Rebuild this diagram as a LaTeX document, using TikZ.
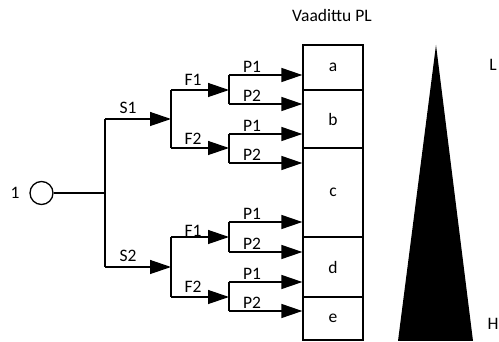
\documentclass[tikz,border=0pt]{standalone}
\usepackage{fontspec}
\setmainfont{Carlito}
\usetikzlibrary{arrows.meta}
\begin{document}
\begin{tikzpicture}[x=1pt,y=-1pt,
  ln/.style={line width=1.3pt},
  arr/.style={ln, -{Triangle[length=21pt,width=14pt]}},
  lbl/.style={font=\fontsize{17.5}{17.5}\selectfont, inner sep=0pt},
  box/.style={draw, line width=1.3pt, minimum width=60pt, inner sep=0pt, font=\fontsize{17.5}{17.5}\selectfont}
]
\useasboundingbox (0,0) rectangle (499,342);
% boxes
\node[box, minimum height=45pt] (a) at (333,67.5) {a};
\node[box, minimum height=58pt] (b) at (333,119) {b};
\node[box, minimum height=89pt] (c) at (333,192.5) {c};
\node[box, minimum height=60pt] (d) at (333,267) {d};
\node[box, minimum height=43pt] (e) at (333,318.5) {e};
\node[lbl] (title) at (332,15) {Vaadittu PL};
% start
\node[lbl] (one) at (15,193) {1};
\node[draw, ln, circle, minimum size=23pt, inner sep=0pt] (start) at (41.5,193) {};
\coordinate (s0) at (105,193);
\coordinate (s1) at (105,119);
\coordinate (s2) at (105,267);
\draw[ln] (start.east) -- (s0);
\draw[ln] (s1) -- (s2);
% S forks
\coordinate (fu) at (171,119);
\coordinate (fl) at (171,267);
\draw[arr] (s1) -- (fu);
\draw[arr] (s2) -- (fl);
\node[lbl] (lS1) at (128,108) {S1};
\node[lbl] (lS2) at (128,256) {S2};
\coordinate (fu1) at (171,90);
\coordinate (fu2) at (171,148);
\coordinate (fl1) at (171,237);
\coordinate (fl2) at (171,297);
\draw[ln] (fu1) -- (fu2);
\draw[ln] (fl1) -- (fl2);
% P forks
\coordinate (pu1) at (229,90);
\coordinate (pu2) at (229,148);
\coordinate (pl1) at (229,237);
\coordinate (pl2) at (229,297);
\draw[arr] (fu1) -- (pu1);
\draw[arr] (fu2) -- (pu2);
\draw[arr] (fl1) -- (pl1);
\draw[arr] (fl2) -- (pl2);
\node[lbl] (lF1u) at (193,80) {F1};
\node[lbl] (lF2u) at (193,139) {F2};
\node[lbl] (lF1l) at (193,231) {F1};
\node[lbl] (lF2l) at (193,287) {F2};
% P branches
\coordinate (q1) at (229,75);
\coordinate (q2) at (229,104);
\coordinate (q3) at (229,134);
\coordinate (q4) at (229,163);
\coordinate (q5) at (229,222);
\coordinate (q6) at (229,252);
\coordinate (q7) at (229,282);
\coordinate (q8) at (229,311);
\draw[ln] (q1) -- (q2);
\draw[ln] (q3) -- (q4);
\draw[ln] (q5) -- (q6);
\draw[ln] (q7) -- (q8);
\draw[arr] (q1) -- (q1 -| a.west);
\draw[arr] (q2) -- (q2 -| b.west);
\draw[arr] (q3) -- (q3 -| b.west);
\draw[arr] (q4) -- (q4 -| c.west);
\draw[arr] (q5) -- (q5 -| c.west);
\draw[arr] (q6) -- (q6 -| d.west);
\draw[arr] (q7) -- (q7 -| d.west);
\draw[arr] (q8) -- (q8 -| e.west);
\foreach \q/\t in {q1/P1,q2/P2,q3/P1,q4/P2,q5/P1,q6/P2,q7/P1,q8/P2}{
  \node[lbl, anchor=south] (l\q) at ([xshift=23pt,yshift=2pt]\q) {\t};
}
% triangle scale
\fill (398,341) -- (473,341) -- (436,45) -- cycle;
\node[lbl] (lL) at (493,65) {L};
\node[lbl] (lH) at (493,324) {H};
\end{tikzpicture}
\end{document}
